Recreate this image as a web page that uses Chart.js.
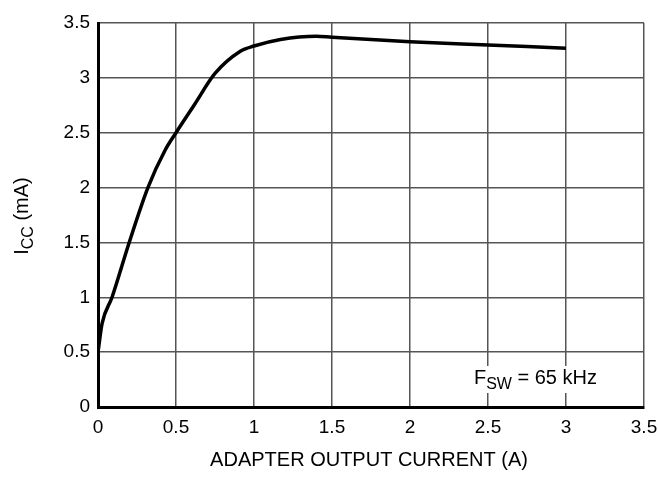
<!DOCTYPE html>
<html>
<head>
<meta charset="utf-8">
<script src="https://cdn.jsdelivr.net/npm/chart.js@4.4.1/dist/chart.umd.min.js"></script>
<style>
  html, body { margin: 0; padding: 0; background: #fff; }
  #wrap { width: 658px; height: 479px; position: relative; }
</style>
</head>
<body>
<div id="wrap"><canvas id="iccChart"></canvas></div>
<script>
// adapter output current (A) vs Icc (mA)
const currentA = [0, 0.026, 0.09, 0.2, 0.32, 0.43, 0.5, 0.62, 0.75, 0.91, 1.0, 1.17, 1.4, 1.5, 2.0, 2.5, 3.0];
const iccMa = [0.5, 0.76, 1.0, 1.5, 2.0, 2.34, 2.5, 2.76, 3.04, 3.24, 3.29, 3.35, 3.38, 3.37, 3.33, 3.30, 3.27];

const xTicks = [0, 0.5, 1, 1.5, 2, 2.5, 3, 3.5];
const yTicks = [0, 0.5, 1, 1.5, 2, 2.5, 3, 3.5];

const xTitle = 'ADAPTER OUTPUT CURRENT (A)';
const yTitle = { main: 'I', sub: 'CC', rest: ' (mA)' };
const note = { main: 'F', sub: 'SW', rest: ' = 65 kHz', x: 2.41, y: 0.21 };

const FONT = '"Liberation Sans", Arial, Helvetica, sans-serif';

// draw text with a subscript part, starting at x (left aligned)
function subText(ctx, parts, x, y, size) {
    ctx.font = size + 'px ' + FONT;
    ctx.fillText(parts.main, x, y);
    let w = ctx.measureText(parts.main).width;
    ctx.font = Math.round(size * 0.8) + 'px ' + FONT;
    ctx.fillText(parts.sub, x + w, y + 5);
    w += ctx.measureText(parts.sub).width;
    ctx.font = size + 'px ' + FONT;
    ctx.fillText(parts.rest, x + w, y);
    w += ctx.measureText(parts.rest).width;
    return w;
}

function subWidth(ctx, parts, size) {
    ctx.font = size + 'px ' + FONT;
    let w = ctx.measureText(parts.main).width + ctx.measureText(parts.rest).width;
    ctx.font = Math.round(size * 0.8) + 'px ' + FONT;
    return w + ctx.measureText(parts.sub).width;
}

const labelsPlugin = {
    id: 'labelsPlugin',
    beforeDatasetsDraw(chart) {
        const ctx = chart.ctx;
        const xs = chart.scales.x, ys = chart.scales.y;
        // annotation with white background over the grid
        ctx.save();
        ctx.textBaseline = 'alphabetic';
        const w = subWidth(ctx, note, 20);
        const px = xs.getPixelForValue(note.x), py = ys.getPixelForValue(note.y);
        ctx.fillStyle = '#fff';
        ctx.fillRect(px - 3, py - 18, w + 6, 27);
        ctx.fillStyle = '#000';
        subText(ctx, note, px, py, 20);
        ctx.restore();
    },
    afterDraw(chart) {
        const ctx = chart.ctx;
        ctx.save();
        ctx.fillStyle = '#000';
        ctx.textBaseline = 'alphabetic';
        // x title
        ctx.font = '20px ' + FONT;
        ctx.textAlign = 'center';
        ctx.fillText(xTitle, 369, 466);
        // y title, rotated
        ctx.textAlign = 'left';
        const w = subWidth(ctx, yTitle, 20);
        ctx.translate(28, 216);
        ctx.rotate(-Math.PI / 2);
        subText(ctx, yTitle, -w / 2, 0, 20);
        ctx.restore();
    }
};

const ctx = document.getElementById('iccChart').getContext('2d');

new Chart(ctx, {
    type: 'line',
    data: {
        datasets: [{
            data: currentA.map((x, i) => ({ x: x, y: iccMa[i] })),
            borderColor: '#000',
            borderWidth: 3.5,
            pointRadius: 0,
            fill: false,
            cubicInterpolationMode: 'monotone'
        }]
    },
    options: {
        responsive: true,
        maintainAspectRatio: false,
        animation: false,
        layout: { padding: { top: 23, right: 14, left: 0, bottom: 0 } },
        plugins: {
            legend: { display: false },
            tooltip: { enabled: false }
        },
        scales: {
            x: {
                type: 'linear',
                min: 0,
                max: 3.5,
                afterFit(scale) {
                    scale.height = 72;
                    scale.paddingLeft = 0;
                    scale.paddingRight = 0;
                },
                afterBuildTicks(scale) { scale.ticks = xTicks.map(v => ({ value: v })); },
                grid: { color: '#555', lineWidth: 1.5, drawTicks: false },
                border: { color: '#000', width: 3 },
                ticks: {
                    color: '#000',
                    padding: 9,
                    maxRotation: 0,
                    font: { family: FONT, size: 19 },
                    callback: v => String(v)
                }
            },
            y: {
                type: 'linear',
                min: 0,
                max: 3.5,
                afterFit(scale) {
                    scale.width = 98;
                    scale.paddingTop = 0;
                    scale.paddingBottom = 0;
                },
                afterBuildTicks(scale) { scale.ticks = yTicks.map(v => ({ value: v })); },
                grid: { color: '#555', lineWidth: 1.5, drawTicks: false },
                border: { color: '#000', width: 3 },
                ticks: {
                    color: '#000',
                    padding: 8,
                    font: { family: FONT, size: 19 },
                    callback: v => String(v)
                }
            }
        }
    },
    plugins: [labelsPlugin]
});
</script>
</body>
</html>
